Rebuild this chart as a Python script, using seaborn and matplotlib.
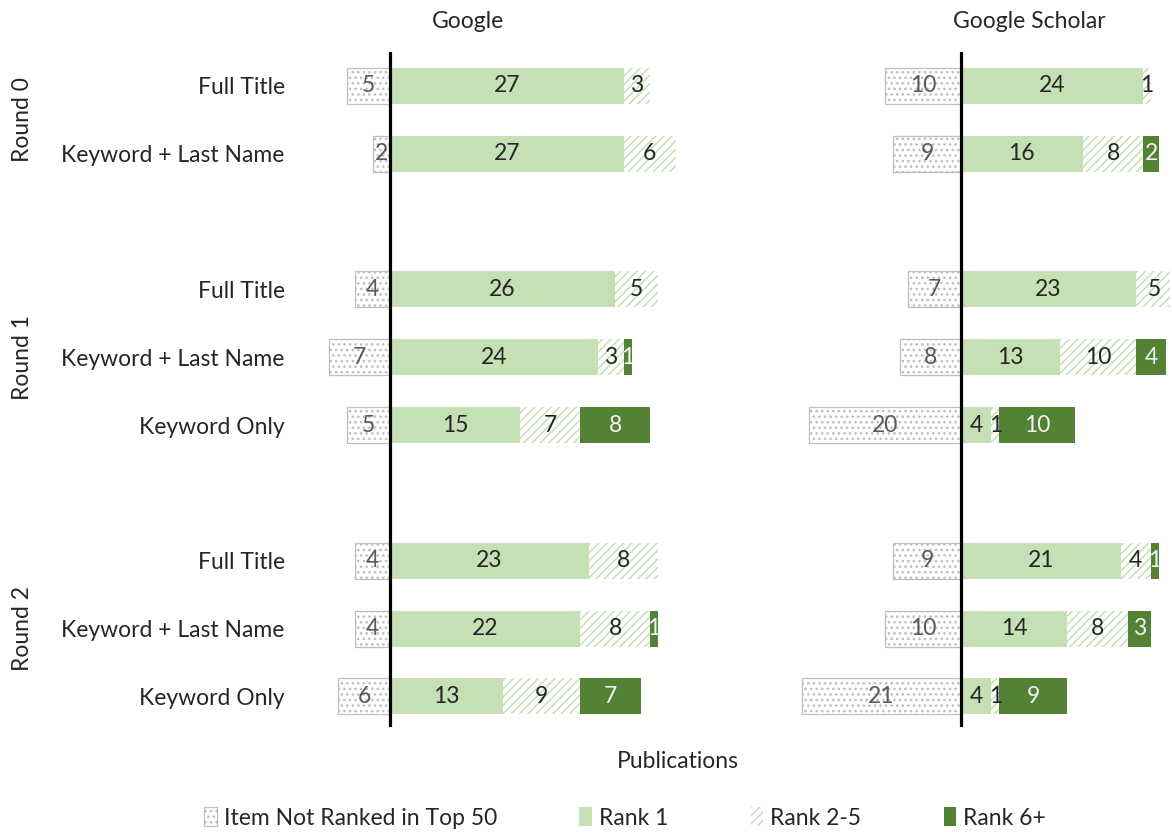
import matplotlib
matplotlib.use("Agg")
import matplotlib.pyplot as plt
from matplotlib.patches import Patch
import matplotlib.transforms as mtransforms
import numpy as np
import pandas as pd
import seaborn as sns

# Data.
rounds = ["Round 0", "Round 0", "Round 1", "Round 1", "Round 1",
          "Round 2", "Round 2", "Round 2"]
queries = ["Full Title", "Keyword + Last Name",
           "Full Title", "Keyword + Last Name", "Keyword Only",
           "Full Title", "Keyword + Last Name", "Keyword Only"]

google_nr = [5, 2, 4, 7, 5, 4, 4, 6]
google_r1 = [27, 27, 26, 24, 15, 23, 22, 13]
google_r25 = [3, 6, 5, 3, 7, 8, 8, 9]
google_r6 = [0, 0, 0, 1, 8, 0, 1, 7]

scholar_nr = [10, 9, 7, 8, 20, 9, 10, 21]
scholar_r1 = [24, 16, 23, 13, 4, 21, 14, 4]
scholar_r25 = [1, 8, 5, 10, 1, 4, 8, 1]
scholar_r6 = [0, 2, 0, 4, 10, 1, 3, 9]

engines = ["Google", "Google Scholar"]
legend_labels = ["Item Not Ranked in Top 50", "Rank 1", "Rank 2-5", "Rank 6+"]

# Colours.
LIGHT = "#C5E0B4"
DARK = "#548235"
GREY_EDGE = "#BFBFBF"
TEXT = "#262626"

sns.set_theme(style="white")
plt.rcParams["font.family"] = ["Lato", "DejaVu Sans"]
plt.rcParams["hatch.linewidth"] = 1.1
FS = 16.5

# Row slots: one empty slot between rounds.
pos = []
slot = 0
for i, r in enumerate(rounds):
    if i > 0 and r != rounds[i - 1]:
        slot += 1
    pos.append(slot)
    slot += 1
pos = np.array(pos, dtype=float)

fig = plt.figure(figsize=(11.72, 8.32), dpi=100)
W, H = 1172, 832
# [left, bottom, width, height] in pixels -> figure fraction
ax_g = fig.add_axes([325 / W, 1 - 727 / H, 355 / W, 675 / H])
ax_s = fig.add_axes([794 / W, 1 - 727 / H, 376 / W, 675 / H])

panels = [
    (ax_g, google_nr, google_r1, google_r25, google_r6, (-7.5, 33.5)),
    (ax_s, scholar_nr, scholar_r1, scholar_r25, scholar_r6, (-22, 27.5)),
]

BAR_H = 0.53

for (ax, nr, r1, r25, r6, xlim), name in zip(panels, engines):
    nr = np.array(nr)
    r1 = np.array(r1)
    r25 = np.array(r25)
    r6 = np.array(r6)
    df = pd.DataFrame({"pos": pos, "nr": -nr, "r1": r1,
                       "r15": r1 + r25, "tot": r1 + r25 + r6})

    # stacked bars drawn as overlapping cumulative totals
    sns.barplot(data=df, x="nr", y="pos", orient="h", native_scale=True,
                width=BAR_H, color="white", edgecolor=GREY_EDGE,
                linewidth=0.9, hatch="...", saturation=1, ax=ax)
    sns.barplot(data=df, x="tot", y="pos", orient="h", native_scale=True,
                width=BAR_H, color=DARK, linewidth=0, saturation=1, ax=ax)
    sns.barplot(data=df, x="r15", y="pos", orient="h", native_scale=True,
                width=BAR_H, color="white", edgecolor=LIGHT, linewidth=0,
                hatch="////", saturation=1, ax=ax)
    sns.barplot(data=df, x="r1", y="pos", orient="h", native_scale=True,
                width=BAR_H, color=LIGHT, linewidth=0, saturation=1, ax=ax)

    # value labels
    for y, a, b, c, d in zip(pos, nr, r1, r25, r6):
        if a > 0:
            ax.text(-a / 2, y, str(a), ha="center", va="center",
                    fontsize=FS, color="#595959")
        start = 0
        for v, col in ((b, TEXT), (c, TEXT), (d, "#F2F2F2")):
            if v > 0:
                ax.text(start + v / 2, y, str(v), ha="center", va="center",
                        fontsize=FS, color=col)
            start += v

    ax.axvline(0, color="black", lw=2.3, zorder=5)
    ax.set_xlim(*xlim)
    ax.set_ylim(pos.max() + 0.45, -0.5)
    ax.set_xticks([])
    ax.set_xlabel("")
    ax.set_ylabel("")
    for sp in ax.spines.values():
        sp.set_visible(False)

    trans = mtransforms.blended_transform_factory(ax.transData, ax.transAxes)
    ax.text(9, 1.045, name, transform=trans, ha="center", va="center",
            fontsize=FS, color=TEXT)

# category labels on the left panel
ax_g.set_yticks(pos, queries)
ax_g.tick_params(axis="y", length=0, pad=29, labelsize=FS, labelcolor=TEXT)
ax_s.set_yticks([])

# round group labels
trans = mtransforms.blended_transform_factory(ax_g.transAxes, ax_g.transData)
for r in dict.fromkeys(rounds):
    ys = pos[[i for i, x in enumerate(rounds) if x == r]]
    ax_g.text(-0.853, ys.mean(), r, transform=trans, rotation=90,
              ha="center", va="center", fontsize=FS, color=TEXT)

fig.text(678 / W, 1 - 762 / H, "Publications", ha="center", va="center",
         fontsize=FS, color=TEXT)

handles = [
    Patch(facecolor="white", edgecolor=GREY_EDGE, hatch="...", linewidth=0.9),
    Patch(facecolor=LIGHT, edgecolor=LIGHT, linewidth=0),
    Patch(facecolor="white", edgecolor=LIGHT, hatch="////", linewidth=0),
    Patch(facecolor=DARK, edgecolor=DARK, linewidth=0),
]
fig.legend(handles, legend_labels, loc="center",
           bbox_to_anchor=(625 / W, 1 - 818 / H), ncol=4, frameon=False,
           fontsize=FS, handlelength=0.55, handleheight=0.9,
           handletextpad=0.3, columnspacing=3.6, labelcolor=TEXT)

fig.savefig("out.png", dpi=100)
